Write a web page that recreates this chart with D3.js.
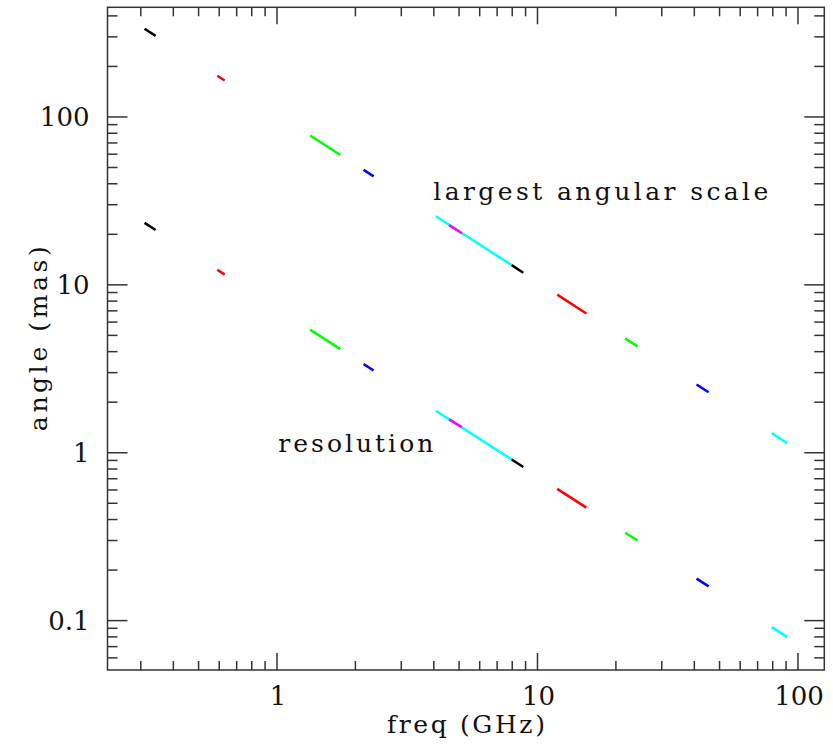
<!DOCTYPE html>
<html>
<head>
<meta charset="utf-8">
<script src="https://cdn.jsdelivr.net/npm/d3@7"></script>
<style>
  body { margin: 0; background: #fff; }
  text { font-family: "DejaVu Serif", serif; fill: #111; }
</style>
</head>
<body>
<script>
// Define constants
const width = 833
const height = 749
const margin = {top: 7.3, right: 8.7, bottom: 79, left: 107.5}
const innerwidth = width - margin.left - margin.right
const innerheight = height - margin.top - margin.bottom

// axis ranges (GHz, mas)
const xDomain = [0.2235, 126.2]
const yDomain = [0.0508, 450]
const xMajor = [1, 10, 100]
const yMajor = [0.1, 1, 10, 100]

// observing bands, low / high freq (GHz)
const freqLo = [0.31, 0.59, 1.34, 2.15, 4.07, 4.58, 7.96, 11.9, 21.7, 40.8, 79.3]
const freqHi = [0.342, 0.63, 1.75, 2.35, 7.96, 5.12, 8.82, 15.4, 24.2, 45.4, 91]
// largest angular scale at low / high freq (mas)
const lasLo = [335, 176, 77.6, 48.4, 25.6, 22.7, 13.1, 8.74, 4.79, 2.55, 1.31]
const lasHi = [304, 165, 59.4, 44.3, 13.1, 20.3, 11.8, 6.75, 4.30, 2.29, 1.14]
// resolution at low / high freq (mas)
const resLo = [23.4, 12.3, 5.41, 3.37, 1.78, 1.58, 0.911, 0.609, 0.334, 0.178, 0.0914]
const resHi = [21.2, 11.5, 4.14, 3.09, 0.911, 1.42, 0.822, 0.471, 0.300, 0.160, 0.0797]

const bandColors = ["#000000", "#ff0000", "#00ff00", "#0000ff", "#00ffff", "#ff00ff",
                    "#000000", "#ff0000", "#00ff00", "#0000ff", "#00ffff"]

const svg = d3.select("body").append("svg")
    .attr("width", width)
    .attr("height", height)

svg.append("rect").attr("width", width).attr("height", height).attr("fill", "#fff")

const g = svg.append("g")
    .attr("transform", `translate(${margin.left},${margin.top})`)

const xScale = d3.scaleLog().domain(xDomain).range([0, innerwidth])
const yScale = d3.scaleLog().domain(yDomain).range([innerheight, 0])

// minor ticks: 2..9 of each decade inside the domain
const minorTicks = dom => {
    const out = []
    for (let e = -3; e <= 3; e++) {
        for (let m = 2; m <= 9; m++) {
            const v = m * Math.pow(10, e)
            if (v > dom[0] && v < dom[1]) out.push(v)
        }
    }
    return out
}

// ticks on all four sides, pointing inward
const tickG = g.append("g").attr("stroke", "#333").attr("stroke-width", 1.5)

const xTicks = xMajor.map(v => ({v, len: 17})).concat(minorTicks(xDomain).map(v => ({v, len: 9})))
const yTicks = yMajor.map(v => ({v, len: 20})).concat(minorTicks(yDomain).map(v => ({v, len: 10})))

tickG.selectAll(".xb").data(xTicks).enter().append("line")
    .attr("x1", d => xScale(d.v)).attr("x2", d => xScale(d.v))
    .attr("y1", innerheight).attr("y2", d => innerheight - d.len)
tickG.selectAll(".xt").data(xTicks).enter().append("line")
    .attr("x1", d => xScale(d.v)).attr("x2", d => xScale(d.v))
    .attr("y1", 0).attr("y2", d => d.len)
tickG.selectAll(".yl").data(yTicks).enter().append("line")
    .attr("y1", d => yScale(d.v)).attr("y2", d => yScale(d.v))
    .attr("x1", 0).attr("x2", d => d.len)
tickG.selectAll(".yr").data(yTicks).enter().append("line")
    .attr("y1", d => yScale(d.v)).attr("y2", d => yScale(d.v))
    .attr("x1", innerwidth).attr("x2", d => innerwidth - d.len)

// frame
g.append("rect")
    .attr("width", innerwidth)
    .attr("height", innerheight)
    .attr("fill", "none")
    .attr("stroke", "#333")
    .attr("stroke-width", 1.5)

// tick labels
g.selectAll(".xlab").data(xMajor).enter().append("text")
    .attr("x", d => xScale(d) + 1)
    .attr("y", innerheight + 35)
    .attr("text-anchor", "middle")
    .attr("font-size", 26)
    .text(d => d)

g.selectAll(".ylab").data(yMajor).enter().append("text")
    .attr("x", -18)
    .attr("y", d => yScale(d))
    .attr("dy", "0.36em")
    .attr("text-anchor", "end")
    .attr("font-size", 26)
    .text(d => d)

// band segments
const line = d3.line().x(d => xScale(d[0])).y(d => yScale(d[1]))
const segs = []
freqLo.forEach((f, i) => {
    segs.push({pts: [[f, lasLo[i]], [freqHi[i], lasHi[i]]], c: bandColors[i]})
    segs.push({pts: [[f, resLo[i]], [freqHi[i], resHi[i]]], c: bandColors[i]})
})
g.selectAll(".seg").data(segs).enter().append("path")
    .attr("d", d => line(d.pts))
    .attr("fill", "none")
    .attr("stroke", d => d.c)
    .attr("stroke-width", 2.5)

// annotations
g.append("text")
    .attr("x", 433.3 - margin.left)
    .attr("y", 200 - margin.top)
    .attr("font-size", 25)
    .attr("textLength", 335)
    .attr("lengthAdjust", "spacing")
    .text("largest angular scale")

g.append("text")
    .attr("x", 278.3 - margin.left)
    .attr("y", 451.7 - margin.top)
    .attr("font-size", 25)
    .attr("textLength", 155)
    .attr("lengthAdjust", "spacing")
    .text("resolution")

// axis titles
g.append("text")
    .attr("x", innerwidth / 2)
    .attr("y", innerheight + 63)
    .attr("text-anchor", "middle")
    .attr("font-size", 25)
    .attr("textLength", 158)
    .attr("lengthAdjust", "spacing")
    .text("freq (GHz)")

g.append("text")
    .attr("transform", `translate(${47 - margin.left},${innerheight / 2}) rotate(-90)`)
    .attr("text-anchor", "middle")
    .attr("font-size", 25)
    .attr("textLength", 185)
    .attr("lengthAdjust", "spacing")
    .text("angle (mas)")
</script>
</body>
</html>
